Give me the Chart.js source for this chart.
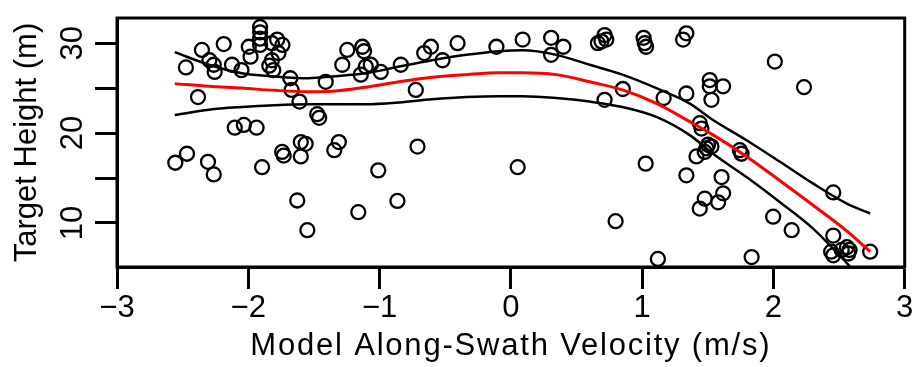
<!DOCTYPE html>
<html>
<head>
<meta charset="utf-8">
<script src="https://cdn.jsdelivr.net/npm/chart.js@4"></script>
<style>
  html, body { margin: 0; padding: 0; background: #fff; }
  canvas { display: block; }
</style>
</head>
<body>
<canvas id="plot" width="914" height="367"></canvas>
<script>
// observed points (velocity, target height)
const obsX = [-2.556, -2.475, -2.467, -2.383, -2.353, -2.307, -2.296, -2.263, -2.256, -2.263,
  -2.187, -2.124, -2.103, -2.052, -2.034, -1.996, -1.983, -1.937, -1.895, -1.91,
  -1.91, -1.91, -1.91, -1.82, -1.78, -1.74, -1.77, -1.82, -1.81, -1.84,
  -1.68, -1.67, -1.61, -1.742, -1.73, -1.60, -1.60, -1.563, -1.627, -1.55,
  -1.475, -1.46, -1.41, -1.31, -1.345, -1.246, -1.131, -1.118, -1.284, -1.143,
  -1.105, -1.067, -0.991, -1.01, -1.162, -0.864, -0.838, -0.724, -0.711, -0.66,
  -0.609, -0.52, -0.406, -0.11, 0.09, 0.052, 0.307, 0.40, 0.307, 0.663,
  0.714, 0.727, 0.69, 0.714, 0.798, 0.853, 1.011, 1.02, 1.03, 1.027,
  1.12, 1.164, 1.337, 1.312, 1.337, 1.337, 1.414, 1.439, 1.452, 1.439,
  1.477, 1.477, 1.49, 1.502, 1.528, 1.515, 1.515, 1.617, 1.528, 1.605,
  1.617, 1.579, 1.744, 1.757, 1.834, 1.998, 2.011, 2.139, 2.233, 2.456,
  2.456, 2.44, 2.456, 2.52, 2.56, 2.58, 2.57, 2.737];
const obsY = [16.7, 27.3, 17.7, 24.0, 29.25, 16.8, 28.1, 27.6, 26.8, 15.4,
  29.9, 27.6, 20.6, 27.0, 20.9, 29.6, 28.5, 20.6, 16.2, 31.8,
  31.2, 30.5, 29.8, 30.0, 30.4, 29.8, 28.9, 28.1, 27.0, 27.5,
  26.1, 24.8, 23.5, 17.9, 17.5, 19.0, 17.4, 18.8, 12.5, 9.2,
  22.1, 21.7, 25.7, 19.0, 18.1, 29.25, 29.6, 29.1, 27.6, 26.5,
  27.4, 27.6, 26.8, 15.85, 11.2, 12.45, 27.6, 24.8, 18.5, 28.9,
  29.6, 28.1, 30.0, 29.6, 30.4, 16.2, 30.6, 29.6, 28.7, 30.0,
  30.9, 30.4, 30.2, 23.7, 10.2, 24.9, 30.6, 30.0, 29.6, 16.6,
  6.0, 23.9, 31.1, 30.4, 24.4, 15.3, 17.4, 21.1, 20.5, 11.6,
  12.7, 17.9, 18.3, 18.7, 18.5, 25.9, 25.2, 25.2, 23.7, 15.1,
  13.3, 12.3, 18.1, 17.7, 6.2, 10.7, 27.95, 9.2, 25.1, 13.4,
  8.6, 6.8, 6.4, 7.0, 7.3, 7.0, 6.6, 6.8];

// smooth fit and its band
const fitX = [-2.56, -2.30, -2.05, -1.80, -1.54, -1.36, -1.105, -0.85, -0.60, -0.34,
  -0.09, 0.09, 0.345, 0.60, 0.85, 1.108, 1.36, 1.54, 1.795, 2.05, 2.30, 2.56, 2.737];
const fitMid = [25.5, 25.2, 25.0, 24.75, 24.6, 24.65, 25.1, 25.7, 26.2, 26.5,
  26.7, 26.7, 26.5, 25.7, 24.8, 23.3, 21.3, 19.8, 17.4, 14.7, 12.0, 9.1, 6.8];
const fitUpper = [29.0, 27.6, 26.65, 26.3, 26.1, 26.3, 26.65, 27.4, 28.1, 28.7,
  29.1, 29.2, 28.7, 27.6, 26.5, 25.0, 23.3, 21.45, 19.2, 16.8, 14.4, 12.15, 11.05];
const lowX = [-2.56, -2.30, -2.05, -1.80, -1.54, -1.36, -1.105, -0.85, -0.60, -0.34,
  -0.09, 0.09, 0.345, 0.60, 0.85, 1.108, 1.36, 1.54, 1.795, 2.05, 2.30, 2.62];
const fitLower = [22.0, 22.6, 22.9, 23.1, 23.2, 23.2, 23.2, 23.4, 23.75, 24.0,
  24.1, 24.1, 23.9, 23.5, 22.9, 21.8, 19.8, 17.7, 15.1, 12.3, 9.4, 4.6];

const xTicks = [-3, -2, -1, 0, 1, 2, 3];
const yTicks = [10, 15, 20, 25, 30];
const yLabelled = [10, 20, 30];

const pts = (xs, ys) => xs.map((x, i) => ({ x: x, y: ys[i] }));

const font = { family: "'Liberation Sans', Arial, sans-serif", size: 31 };

const boxPlugin = {
  id: 'box',
  afterDraw(chart) {
    const a = chart.chartArea, ctx = chart.ctx;
    ctx.save();
    ctx.strokeStyle = '#000';
    ctx.lineWidth = 3;
    ctx.strokeRect(a.left, a.top, a.right - a.left, a.bottom - a.top);
    ctx.restore();
  }
};

// the x title in the original is set a bit wider than plain Arial
function widenTitle(scale) {
  if (scale._widened) return;
  scale._widened = true;
  const orig = scale.drawTitle;
  scale.drawTitle = function () {
    const ctx = this.ctx;
    const prev = ctx.letterSpacing;
    ctx.letterSpacing = '1.8px';
    orig.apply(this, arguments);
    ctx.letterSpacing = prev;
  };
}

function lineSet(data, color, width, order) {
  return {
    type: 'line', data: data, borderColor: color, borderWidth: width,
    pointRadius: 0, fill: false, cubicInterpolationMode: 'monotone', order: order
  };
}

new Chart(document.getElementById('plot'), {
  type: 'scatter',
  data: {
    datasets: [
      lineSet(pts(fitX, fitMid), '#ff0000', 3, 0),
      lineSet(pts(fitX, fitUpper), '#000', 2.5, 1),
      lineSet(pts(lowX, fitLower), '#000', 2.5, 1),
      {
        data: pts(obsX, obsY), order: 2,
        pointStyle: 'circle', pointRadius: 7, borderWidth: 2.3,
        borderColor: '#000', backgroundColor: 'rgba(0,0,0,0)'
      }
    ]
  },
  options: {
    responsive: false,
    animation: false,
    devicePixelRatio: 1,
    events: [],
    layout: { padding: { top: 18, right: 8, left: 0, bottom: 0 } },
    plugins: { legend: { display: false }, tooltip: { enabled: false } },
    scales: {
      x: {
        type: 'linear', min: -3, max: 3,
        afterBuildTicks: s => { s.ticks = xTicks.map(v => ({ value: v })); },
        afterFit: s => { s.height = 100; s.paddingLeft = 0; s.paddingRight = 0; widenTitle(s); },
        border: { display: true, color: '#000', width: 3 },
        grid: { drawOnChartArea: false, drawTicks: true, tickLength: 22, tickWidth: 3, tickColor: '#000', color: '#000' },
        ticks: {
          font: font, color: '#000', padding: 1, maxRotation: 0, autoSkip: false,
          callback: v => (v < 0 ? '\u2212' + Math.abs(v) : String(v))
        },
        title: { display: true, text: 'Model Along-Swath Velocity (m/s)', font: font, color: '#000', padding: { top: 0, bottom: 2 } }
      },
      y: {
        type: 'linear', min: 5.1, max: 32.8,
        afterBuildTicks: s => { s.ticks = yTicks.map(v => ({ value: v })); },
        afterFit: s => { s.width = 117; s.paddingTop = 0; s.paddingBottom = 0; },
        border: { display: true, color: '#000', width: 3 },
        grid: { drawOnChartArea: false, drawTicks: true, tickLength: 22, tickWidth: 3, tickColor: '#000', color: '#000' },
        ticks: {
          font: font, color: '#000', padding: 4, minRotation: 90, maxRotation: 90, crossAlign: 'center', autoSkip: false,
          callback: v => (yLabelled.includes(v) ? String(v) : '')
        },
        title: { display: true, text: 'Target Height (m)', font: font, color: '#000', padding: { top: 9, bottom: 0 } }
      }
    }
  },
  plugins: [boxPlugin]
});
</script>
</body>
</html>
